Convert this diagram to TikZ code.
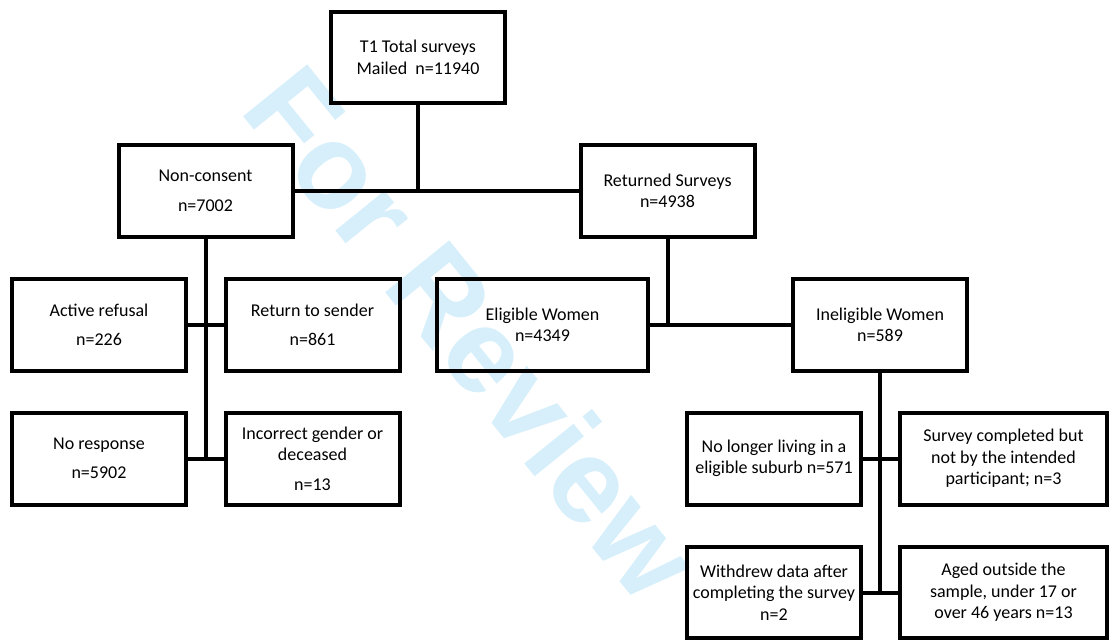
\documentclass[tikz,border=0pt]{standalone}
\usepackage{fontspec}
\setmainfont{Carlito}
\newfontfamily\markfont{Liberation Sans}
\usetikzlibrary{positioning}
\definecolor{markblue}{RGB}{214,239,251}

\begin{document}
\begin{tikzpicture}[x=1pt,y=-1pt,
  box/.style={draw,line width=4pt,minimum width=174pt,minimum height=92pt,
              align=center,inner sep=0pt,font=\fontsize{18}{21.5}\selectfont},
  link/.style={line width=4pt,line cap=rect}]
\useasboundingbox (0,0) rectangle (1111,642);
\node[rotate=-51,text=markblue,inner sep=0pt,font=\markfont\bfseries\fontsize{120}{120}\selectfont]
  (mark) at (473,332) {For Review};

\node[box,minimum height=91pt] (t1) at (418,57.5) {T1 Total surveys\\Mailed~~n=11940};
\node[box] (nc) at (205.5,191) {Non-consent\\[8pt]n=7002};
\node[box] (rs) at (667.5,191) {Returned Surveys\\n=4938};

\node[box] (ar) at (99,325) {Active refusal\\[8pt]n=226};
\node[box] (rt) at (312.5,325) {Return to sender\\[8pt]n=861};
\node[box] (nr) at (99,458.5) {No response\\[8pt]n=5902};
\node[box] (ig) at (312.5,458.5) {Incorrect gender or\\deceased\\[8pt]n=13};

\node[box,minimum width=211pt] (ew) at (542.5,325) {Eligible Women\\n=4349};
\node[box] (iw) at (880,325) {Ineligible Women\\n=589};

\node[box] (nl) at (774,458.5) {No longer living in a\\eligible suburb n=571};
\node[box,minimum width=207pt] (sc) at (1003.5,458.5) {Survey completed but\\not by the intended\\participant; n=3};
\node[box,minimum height=91pt] (wd) at (774,592.5) {Withdrew data after\\completing the survey\\n=2};
\node[box,minimum width=207pt,minimum height=91pt] (ag) at (1003.5,592.5) {Aged outside the\\sample, under 17 or\\over 46 years n=13};

\draw[link] (t1.south) -- (t1.south |- nc.east);
\draw[link] (nc.east) -- (rs.west);
\draw[link] (nc.south) -- (nc.south |- nr.east);
\draw[link] (ar.east) -- (rt.west);
\draw[link] (nr.east) -- (ig.west);
\draw[link] (rs.south) -- (rs.south |- ew.east);
\draw[link] (ew.east) -- (iw.west);
\draw[link] (iw.south) -- (iw.south |- wd.east);
\draw[link] (nl.east) -- (sc.west);
\draw[link] (wd.east) -- (ag.west);
\end{tikzpicture}
\end{document}
